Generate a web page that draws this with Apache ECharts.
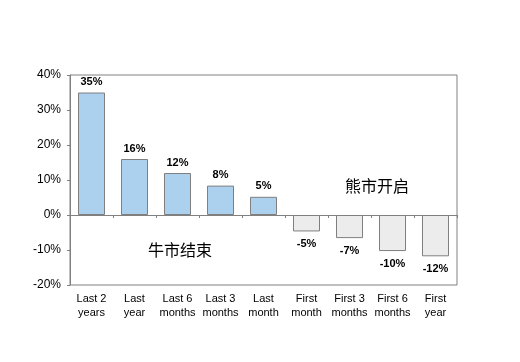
<!DOCTYPE html>
<html><head><meta charset="utf-8">
<script src="https://cdn.jsdelivr.net/npm/echarts@6/dist/echarts.min.js"></script>
<style>html,body{margin:0;padding:0;background:#fff}#c{width:520px;height:362px}</style>
</head><body><div id="c"></div>
<script>
var categories = ['Last 2\nyears','Last\nyear','Last 6\nmonths','Last 3\nmonths','Last\nmonth','First\nmonth','First 3\nmonths','First 6\nmonths','First\nyear'];
var values = [35, 16, 12, 8.4, 5.2, -4.7, -6.6, -10.3, -11.8];
var valueLabels = ['35%','16%','12%','8%','5%','-5%','-7%','-10%','-12%'];
var yTicks = [-20, -10, 0, 10, 20, 30, 40];
var notes = ['牛市结束', '熊市开启'];

var font = '"Liberation Sans", Arial, sans-serif';
var chart = echarts.init(document.getElementById('c'));
chart.setOption({
  animation: false,
  grid: {left: 70, right: 63, top: 75, bottom: 77, show: true, borderColor: '#808080', borderWidth: 1},
  xAxis: [{
    type: 'category', data: categories, position: 'bottom',
    axisLine: {show: true, onZero: true, lineStyle: {color: '#808080'}},
    axisTick: {show: true, interval: 0, length: 3, lineStyle: {color: '#808080'}},
    axisLabel: {show: false}
  }, {
    type: 'category', data: categories, position: 'bottom',
    axisLine: {show: false, onZero: false}, axisTick: {show: false},
    axisLabel: {interval: 0, color: '#000', fontFamily: font, fontSize: 11, lineHeight: 14, margin: 7}
  }],
  yAxis: {
    type: 'value', min: yTicks[0], max: yTicks[yTicks.length-1], interval: 10,
    axisLine: {show: true, lineStyle: {color: '#808080'}},
    axisTick: {show: true, length: 3, lineStyle: {color: '#808080'}},
    splitLine: {show: false},
    axisLabel: {formatter: '{value}%', color: '#000', fontFamily: font, fontSize: 12, margin: 9}
  },
  series: [{
    type: 'bar', xAxisIndex: 0, barWidth: 27,
    data: values.map(function(v, i){
      return {
        value: v,
        itemStyle: {color: v >= 0 ? '#acd1ef' : '#ececec', borderColor: '#7f7f7f', borderWidth: 1},
        label: {show: true, position: v >= 0 ? 'top' : 'bottom', distance: v >= 0 ? 5 : 7,
          formatter: valueLabels[i], fontWeight: 'bold', fontSize: 11, color: '#000', fontFamily: font}
      };
    })
  }],
  graphic: [
    {type: 'text', left: 148, top: 242, style: {text: notes[0], font: '16px "Noto Sans CJK SC", sans-serif', fill: '#000'}},
    {type: 'text', left: 345, top: 178, style: {text: notes[1], font: '16px "Noto Sans CJK SC", sans-serif', fill: '#000'}}
  ]
});
</script></body></html>
